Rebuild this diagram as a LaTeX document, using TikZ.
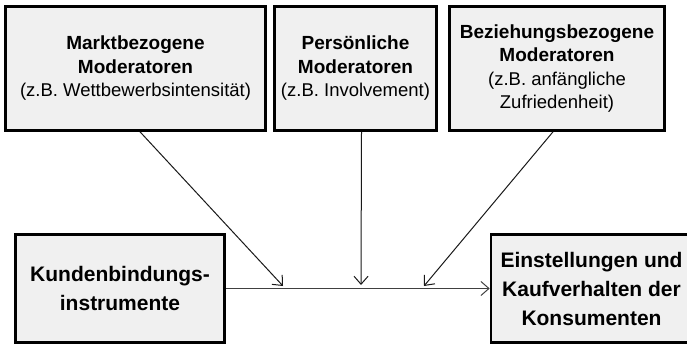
\documentclass[tikz,border=0pt]{standalone}
\usepackage{fontspec}
\setmainfont{Liberation Sans}
\usetikzlibrary{arrows.meta}
\newcommand{\zbfont}{\mdseries\fontsize{18.5}{23.5}\selectfont}
\begin{document}
\begin{tikzpicture}[x=1pt,y=-1pt,
				box/.style={draw=black,fill=black!6,line width=2.6pt,inner sep=0pt,align=center,
					font=\fontsize{19}{23.5}\selectfont\bfseries},
				big/.style={font=\fontsize{21}{29}\selectfont\bfseries},
				arr/.style={-{Straight Barb[length=8pt,width=14pt,line width=1pt]},line width=1pt,black!90}]
\clip (0,0) rectangle (687,345);
\node[box,minimum width=260,minimum height=124] (markt) at (135.5,68.5)
	{Marktbezogene\\Moderatoren\\\zbfont(z.B. Wettbewerbsintensität)};
\node[box,minimum width=162,minimum height=124] (pers) at (355.5,68.5)
	{Persönliche\\Moderatoren\\\zbfont(z.B. Involvement)};
\node[box,minimum width=215,minimum height=124] (bez) at (557,68.5)
	{Beziehungsbezogene\\Moderatoren\\\zbfont(z.B. anfängliche\\\zbfont Zufriedenheit)};
\node[box,big,minimum width=209,minimum height=108] (kund) at (120,288.5)
	{Kundenbindungs-\\instrumente};
\node[box,big,minimum width=201,minimum height=108] (kons) at (591.5,288.5)
	{Einstellungen und\\Kaufverhalten der\\Konsumenten};
\coordinate (m1) at (283,286);
\coordinate (m2) at (361,285);
\coordinate (m3) at (424,286);
\draw[arr,line width=1.5pt,black!75] (kund) -- (kons);
\draw[arr] ([xshift=4.5]markt.south) -- (m1);
\draw[arr] ([xshift=6]pers.south) -- (m2);
\draw[arr] ([xshift=-4]bez.south) -- (m3);
\end{tikzpicture}
\end{document}
